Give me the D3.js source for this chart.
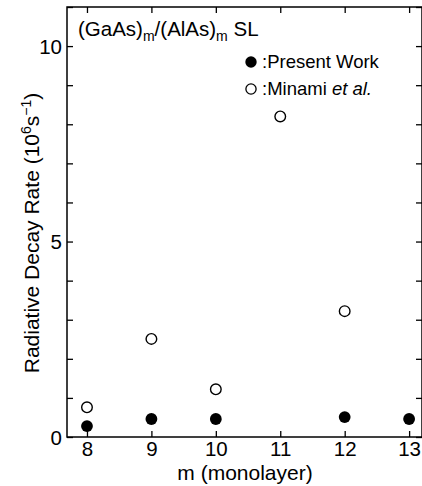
<!DOCTYPE html>
<html>
<head>
<meta charset="utf-8">
<script src="https://cdn.jsdelivr.net/npm/d3@7"></script>
<style>
  html, body { margin: 0; padding: 0; background: #fff; }
  svg { display: block; font-family: "Liberation Sans", Arial, sans-serif; }
</style>
</head>
<body>
<svg id="chart" width="422" height="486"></svg>
<script>
// Monolayer thickness m of the (GaAs)m/(AlAs)m superlattices
const presentM = [8, 9, 10, 12, 13];
const presentRate = [0.28, 0.46, 0.46, 0.51, 0.46];   // 10^6 s^-1
const minamiM = [8, 9, 10, 11, 12];
const minamiRate = [0.76, 2.51, 1.22, 8.2, 3.22];     // 10^6 s^-1
const xTicks = [8, 9, 10, 11, 12, 13];
const yTickLabels = [0, 5, 10];
const yMinorTicks = [0, 1, 2, 3, 4, 5, 6, 7, 8, 9, 10, 11];

const svg = d3.select("#chart");
const plotL = 67, plotR = 422, plotT = 7, plotB = 437;

const x = d3.scaleLinear().domain([7.69, 13.2]).range([plotL, plotR]);
const y = d3.scaleLinear().domain([0, 11]).range([plotB, plotT]);

// frame
svg.append("rect")
  .attr("x", plotL).attr("y", plotT)
  .attr("width", plotR - plotL).attr("height", plotB - plotT)
  .attr("fill", "none").attr("stroke", "#000").attr("stroke-width", 1.5);

const tickLen = 6;
// inward ticks on all four sides
const bAxis = svg.append("g").attr("transform", `translate(0,${plotB})`)
  .call(d3.axisBottom(x).tickValues(xTicks).tickSize(-tickLen).tickPadding(4).tickFormat(d3.format("d")));
const tAxis = svg.append("g").attr("transform", `translate(0,${plotT})`)
  .call(d3.axisTop(x).tickValues(xTicks).tickSize(-tickLen).tickFormat(""));
const lAxis = svg.append("g").attr("transform", `translate(${plotL},0)`)
  .call(d3.axisLeft(y).tickValues(yMinorTicks).tickSize(-tickLen).tickPadding(5)
    .tickFormat(d => yTickLabels.includes(d) ? d : ""));
const rAxis = svg.append("g").attr("transform", `translate(${plotR},0)`)
  .call(d3.axisRight(y).tickValues(yMinorTicks).tickSize(-tickLen).tickFormat(""));

[bAxis, tAxis, lAxis, rAxis].forEach(g => {
  g.select(".domain").remove();
  g.selectAll(".tick line").attr("stroke", "#000").attr("stroke-width", 1.3);
  g.selectAll("text").attr("fill", "#000").attr("font-size", 20.5)
    .attr("font-family", "Liberation Sans, Arial, sans-serif");
});
bAxis.selectAll("text").attr("dy", "0.71em");
lAxis.selectAll("text").attr("dy", "0.36em");

// axis titles
svg.append("text")
  .attr("x", 245).attr("y", 480)
  .attr("text-anchor", "middle").attr("font-size", 21)
  .text("m (monolayer)");

const yl = svg.append("text")
  .attr("transform", `translate(39,233) rotate(-90)`)
  .attr("text-anchor", "middle").attr("font-size", 21);
yl.append("tspan").text("Radiative Decay Rate (10");
yl.append("tspan").attr("dy", -8).attr("font-size", 14).text("6");
yl.append("tspan").attr("dy", 8).text("s");
yl.append("tspan").attr("dy", -8).attr("font-size", 14).text("−1");
yl.append("tspan").attr("dy", 8).text(")");

// title
const title = svg.append("text").attr("x", 78).attr("y", 36).attr("font-size", 20.5);
title.append("tspan").text("(GaAs)");
title.append("tspan").attr("dy", 5).attr("font-size", 14).text("m");
title.append("tspan").attr("dy", -5).text("/(AlAs)");
title.append("tspan").attr("dy", 5).attr("font-size", 14).text("m");
title.append("tspan").attr("dy", -5).text(" SL");

// data points
const r = 5.3;
svg.append("g").selectAll("circle")
  .data(minamiM.map((m, i) => [m, minamiRate[i]]))
  .join("circle")
  .attr("cx", d => x(d[0])).attr("cy", d => y(d[1])).attr("r", r)
  .attr("fill", "#fff").attr("stroke", "#000").attr("stroke-width", 1.4);

svg.append("g").selectAll("circle")
  .data(presentM.map((m, i) => [m, presentRate[i]]))
  .join("circle")
  .attr("cx", d => x(d[0])).attr("cy", d => y(d[1])).attr("r", r + 0.6)
  .attr("fill", "#000");

// legend
svg.append("circle").attr("cx", 251).attr("cy", 62).attr("r", r + 0.4).attr("fill", "#000");
svg.append("text").attr("x", 262).attr("y", 68).attr("font-size", 18.5).text(":Present Work");
svg.append("circle").attr("cx", 251).attr("cy", 89).attr("r", r - 0.2)
  .attr("fill", "#fff").attr("stroke", "#000").attr("stroke-width", 1.3);
const lg = svg.append("text").attr("x", 262).attr("y", 95).attr("font-size", 18.5);
lg.append("tspan").text(":Minami ");
lg.append("tspan").attr("font-style", "italic").text("et al.");
</script>
</body>
</html>
